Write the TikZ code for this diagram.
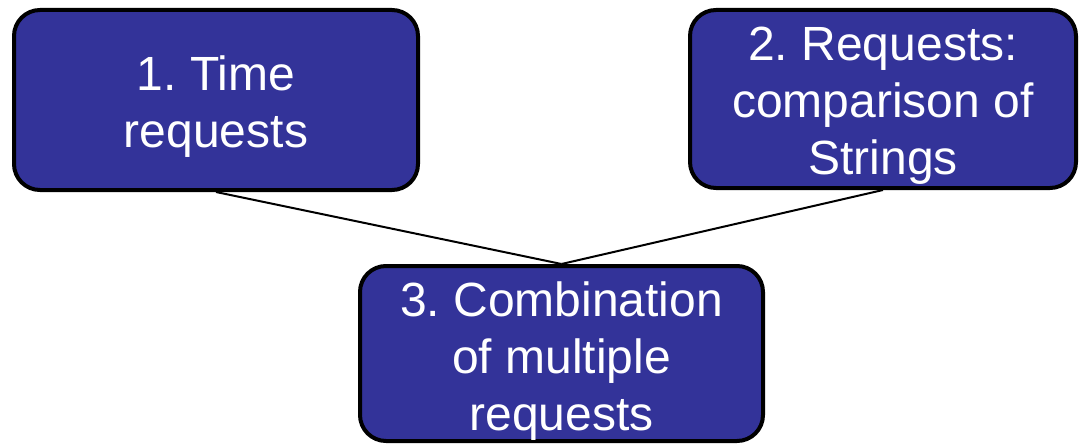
\documentclass[tikz,border=0pt]{standalone}
\usepackage{fontspec}
\setmainfont{Liberation Sans}
\frenchspacing
\definecolor{boxblue}{RGB}{51,51,153}
\begin{document}
\begin{tikzpicture}[x=1pt,y=-1pt,
  boxnode/.style={draw=black,line width=4pt,fill=boxblue,rounded corners=26pt,inner sep=0pt},
  boxtext/.style={text=white,align=center,inner sep=0pt,font=\frenchspacing\fontsize{48}{57}\selectfont},
  link/.style={draw=black,line width=2pt}]
\useasboundingbox (0,0) rectangle (1081,444);
\node[boxnode,minimum width=404pt,minimum height=180pt] (b1) at (216,100) {};
\node[boxnode,minimum width=386pt,minimum height=178pt] (b2) at (883,99) {};
\node[boxnode,minimum width=403pt,minimum height=175pt] (b3) at (561.5,353.5) {};
\node[boxtext] (t1) at ([yshift=-7pt]b1.center) {1. Time\\requests};
\node[boxtext] (t2) at ([yshift=-7pt]b2.center) {2. Requests:\\comparison of\\Strings};
\node[boxtext] (t3) at ([yshift=-8pt]b3.center) {3. Combination\\of multiple\\requests};
\draw[link] (b1.south) -- (b3.north);
\draw[link] (b2.south) -- (b3.north);
\end{tikzpicture}
\end{document}
